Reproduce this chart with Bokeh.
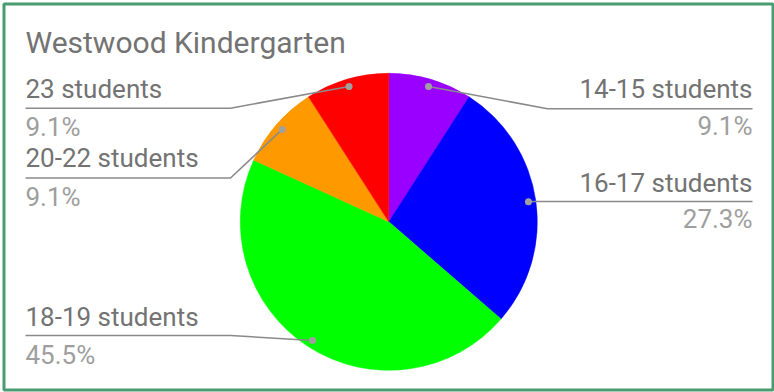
import math
from bokeh.plotting import figure
from bokeh.models import Range1d
from bokeh.core.properties import value
from bokeh.embed import file_html
from bokeh.resources import INLINE

# ---- data ----
title_text = "Westwood Kindergarten"
categories = ["14-15 students", "16-17 students", "18-19 students", "20-22 students", "23 students"]
counts = [1, 3, 5, 1, 1]
colors = ["#9900ff", "#0000ff", "#00ff00", "#ff9900", "#ff0000"]

# ---- layout (screen pixels, y measured from top) ----
W, H = 774, 392
CX, CY, R = 388.3, 221.3, 148.5
DOT_R = 0.95 * R
sides = ["right", "right", "left", "left", "left"]
TEXT_SHIFT = -9.0
name_base = [97.5, 191.0, 325.5, 166.5, 97.5]
line_y = [108.3, 201.0, 335.0, 177.5, 107.7]
pct_base = [134.5, 227.5, 363.0, 205.0, 135.0]
LEFT_X, LEFT_BEND = 25, 230
RIGHT_X = 752
right_bend = [547, 535]

FONT = value("Roboto")
NAME_COL = "#737373"
PCT_COL = "#9e9e9e"
LINE_COL = "#8a8a8a"

def fy(y):
    return H - y

def ty(y):
    return H - (y + TEXT_SHIFT)

p = figure(width=W, height=H, output_backend="svg", toolbar_location=None,
           x_range=Range1d(0, W), y_range=Range1d(0, H),
           x_axis_type=None, y_axis_type=None, min_border=0)
p.grid.visible = False
p.outline_line_color = None
p.background_fill_color = "white"
p.border_fill_color = "white"

total = sum(counts)
cum = 0.0
for i, c in enumerate(counts):
    t1 = 2 * math.pi * cum / total
    cum += c
    t2 = 2 * math.pi * cum / total
    p.wedge(x=[CX], y=[fy(CY)], radius=R,
            start_angle=math.pi / 2 - t2, end_angle=math.pi / 2 - t1,
            fill_color=colors[i], line_color=colors[i], line_width=0.5)

# leaders, dots and labels
cum = 0.0
ri = 0
for i, c in enumerate(counts):
    mid = 2 * math.pi * (cum + c / 2) / total
    cum += c
    dx = CX + DOT_R * math.sin(mid)
    dy = CY - DOT_R * math.cos(mid)
    pct = f"{100 * c / total:.1f}%"
    if sides[i] == "left":
        xs = [LEFT_X, LEFT_BEND, dx]
        tx, align = LEFT_X, "left"
    else:
        xs = [RIGHT_X, right_bend[ri], dx]
        ri += 1
        tx, align = RIGHT_X, "right"
    ys = [fy(line_y[i]), fy(line_y[i]), fy(dy)]
    p.line(xs, ys, line_color=LINE_COL, line_width=1.6)
    p.scatter([dx], [fy(dy)], size=7, fill_color="#a0a0a0", line_color=None)
    p.text(x=[tx], y=[ty(name_base[i])], text=[categories[i]], text_align=align,
           text_baseline="alphabetic", text_font=FONT, text_font_size="26px",
           text_color=NAME_COL)
    p.text(x=[tx], y=[ty(pct_base[i])], text=[pct], text_align=align,
           text_baseline="alphabetic", text_font=FONT, text_font_size="26px",
           text_color=PCT_COL)

p.text(x=[25], y=[ty(51)], text=[title_text], text_align="left",
       text_baseline="alphabetic", text_font=FONT, text_font_size="30px",
       text_color=NAME_COL)

# frame border
p.quad(left=[3.5], right=[772.5], top=[fy(3.5)], bottom=[fy(389.5)],
       fill_color=None, line_color="#489c70", line_width=3)

open("out.html", "w").write(file_html(p, INLINE))
